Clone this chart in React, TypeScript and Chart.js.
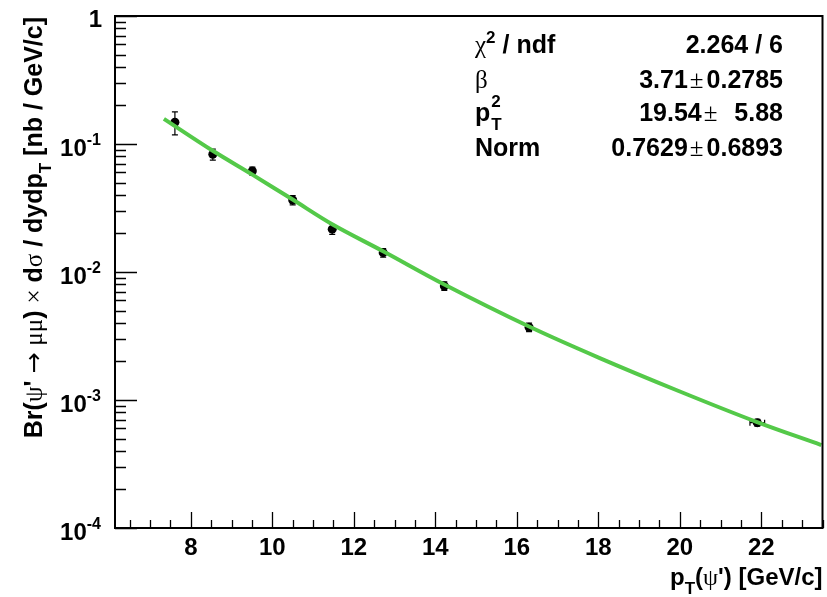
import React, { useEffect, useRef } from "react";
import { Chart, registerables } from "chart.js";

Chart.register(...registerables);

// ---------- data ----------
const pointX = [7.61, 8.54, 9.51, 10.5, 11.47, 12.72, 14.22, 16.3, 21.9];
const pointY = [0.148, 0.0831, 0.0615, 0.0365, 0.0216, 0.01416, 0.00778, 0.0037, 0.000665];
const pointYErr = [0.03, 0.0082, 0.0045, 0.003, 0.0019, 0.0011, 0.0006, 0.00028, 0.00004];
const pointXErr = [0, 0, 0, 0, 0, 0, 0, 0, 0.18];

const fitX = [7.34, 8.54, 9.52, 10.5, 11.48, 12.73, 14.22, 16.3, 18.02, 19.97, 21.88, 23.47];
const fitY = [0.1573, 0.0885, 0.0574, 0.0368, 0.0235, 0.01446, 0.00799, 0.00375, 0.002136, 0.001176, 0.000675, 0.000445];

const xMajorTicks = [8, 10, 12, 14, 16, 18, 20, 22];
const xMinorStep = 0.5;
const yMajorTicks = [1, 0.1, 0.01, 0.001, 0.0001];
const yTickExponents = ["", "-1", "-2", "-3", "-4"];

const statsLabels = ["chi2/ndf", "beta", "pT2", "Norm"];
const statsValues = ["2.264 / 6", "3.71", "19.54", "0.7629"];
const statsErrors = ["", "0.2785", "  5.88", "0.6893"];

const X_MIN = 6.14;
const X_MAX = 23.5;
const Y_MIN = 1e-4;
const Y_MAX = 1;

// ---------- text helpers ----------
const B = (s: number) => `bold ${s}px "Liberation Sans", Arial, Helvetica, sans-serif`;
const G = (s: number) => `${s}px "Liberation Serif", "DejaVu Serif", serif`;
const A = (s: number) => `${s}px "DejaVu Sans", sans-serif`;

type Seg = { t: string; f: string; dy?: number; noAdv?: boolean; gap?: number };

function segsWidth(ctx: CanvasRenderingContext2D, segs: Seg[]) {
  let w = 0;
  for (const s of segs) {
    ctx.font = s.f;
    if (!s.noAdv) w += ctx.measureText(s.t).width;
    w += s.gap || 0;
  }
  return w;
}

function drawSegs(ctx: CanvasRenderingContext2D, segs: Seg[], x: number, y: number) {
  let cx = x;
  ctx.textAlign = "left";
  ctx.textBaseline = "alphabetic";
  for (const s of segs) {
    ctx.font = s.f;
    ctx.fillText(s.t, cx, y + (s.dy || 0));
    if (!s.noAdv) cx += ctx.measureText(s.t).width;
    cx += s.gap || 0;
  }
}

function drawSegsRight(ctx: CanvasRenderingContext2D, segs: Seg[], xRight: number, y: number) {
  drawSegs(ctx, segs, xRight - segsWidth(ctx, segs), y);
}

const decorPlugin = {
  id: "rootDecor",
  beforeDatasetsDraw(chart: any) {
    const { ctx, chartArea: a, scales } = chart;
    const xs = scales.x;
    const ys = scales.y;
    ctx.save();
    ctx.beginPath();
    ctx.rect(a.left, a.top, a.right - a.left, a.bottom - a.top);
    ctx.clip();
    ctx.strokeStyle = "#000";
    ctx.lineWidth = 1.2;
    for (let i = 0; i < pointX.length; i++) {
      const px = xs.getPixelForValue(pointX[i]);
      const py = ys.getPixelForValue(pointY[i]);
      if (pointYErr[i] > 0) {
        const y1 = ys.getPixelForValue(pointY[i] + pointYErr[i]);
        const y2 = ys.getPixelForValue(pointY[i] - pointYErr[i]);
        ctx.beginPath();
        ctx.moveTo(px, y1);
        ctx.lineTo(px, y2);
        ctx.moveTo(px - 3, y1);
        ctx.lineTo(px + 3, y1);
        ctx.moveTo(px - 3, y2);
        ctx.lineTo(px + 3, y2);
        ctx.stroke();
      }
      if (pointXErr[i] > 0) {
        const x1 = xs.getPixelForValue(pointX[i] - pointXErr[i]);
        const x2 = xs.getPixelForValue(pointX[i] + pointXErr[i]);
        ctx.beginPath();
        ctx.moveTo(x1, py);
        ctx.lineTo(x2, py);
        ctx.moveTo(x1, py - 3);
        ctx.lineTo(x1, py + 3);
        ctx.moveTo(x2, py - 3);
        ctx.lineTo(x2, py + 3);
        ctx.stroke();
      }
    }
    ctx.restore();
  },
  afterDraw(chart: any) {
    const { ctx, chartArea: a, scales } = chart;
    const xs = scales.x;
    const ys = scales.y;
    ctx.save();
    ctx.fillStyle = "#000";
    ctx.strokeStyle = "#000";

    // ticks
    ctx.lineWidth = 1.3;
    ctx.beginPath();
    const start = Math.ceil(X_MIN / xMinorStep) * xMinorStep;
    for (let v = start; v <= X_MAX + 1e-9; v += xMinorStep) {
      const px = Math.round(xs.getPixelForValue(v)) + 0.5;
      const major = xMajorTicks.some((t) => Math.abs(t - v) < 1e-6);
      const len = major ? 16 : 8;
      ctx.moveTo(px, a.bottom);
      ctx.lineTo(px, a.bottom - len);
    }
    for (let d = -4; d <= 0; d++) {
      for (let m = 1; m <= 9; m++) {
        const v = m * Math.pow(10, d);
        if (v > Y_MAX * 1.0001) break;
        const py = Math.round(ys.getPixelForValue(v)) + 0.5;
        const len = m === 1 ? 22 : 11;
        ctx.moveTo(a.left, py);
        ctx.lineTo(a.left + len, py);
      }
    }
    ctx.stroke();

    // frame
    ctx.lineWidth = 2;
    ctx.strokeRect(a.left, a.top, a.right - a.left, a.bottom - a.top);

    // x labels
    ctx.font = B(24);
    ctx.textAlign = "center";
    ctx.textBaseline = "alphabetic";
    for (const t of xMajorTicks) {
      ctx.fillText(String(t), xs.getPixelForValue(t), a.bottom + 27);
    }

    // y labels
    for (let i = 0; i < yMajorTicks.length; i++) {
      const py = ys.getPixelForValue(yMajorTicks[i]);
      const e = yTickExponents[i];
      if (!e) {
        ctx.font = B(24);
        ctx.textAlign = "right";
        ctx.fillText("1", 102, py + 11);
      } else {
        ctx.font = B(16);
        const sw = ctx.measureText(e).width;
        ctx.textAlign = "left";
        ctx.fillText(e, 101 - sw, py + 0.5);
        ctx.font = B(24);
        ctx.textAlign = "right";
        ctx.fillText("10", 101 - sw, py + 11.5);
      }
    }

    // x title
    const xTitle: Seg[] = [
      { t: "p", f: B(24) },
      { t: "T", f: B(17), dy: 9 },
      { t: "(", f: B(24) },
      { t: "\u03C8", f: G(24) },
      { t: "') [GeV/c]", f: B(24) },
    ];
    drawSegsRight(ctx, xTitle, a.right, 585);

    // y title (rotated)
    const yTitle: Seg[] = [
      { t: "Br(", f: B(25) },
      { t: "\u03C8", f: G(25) },
      { t: "' ", f: B(25) },
      { t: "\u2192", f: A(25) },
      { t: " ", f: B(25) },
      { t: "\u03BC\u03BC", f: G(25) },
      { t: ") ", f: B(25) },
      { t: "\u00D7", f: G(25) },
      { t: " d", f: B(25) },
      { t: "\u03C3", f: G(25) },
      { t: " / dydp", f: B(25) },
      { t: "T", f: B(17), dy: 9 },
      { t: " [nb / GeV/c]", f: B(25) },
    ];
    const yw = segsWidth(ctx, yTitle);
    ctx.save();
    ctx.translate(42, a.top + 1 + yw);
    ctx.rotate(-Math.PI / 2);
    drawSegs(ctx, yTitle, 0, 0);
    ctx.restore();

    // stats box
    const LX = 475;
    const RX = 783;
    const rows = [52.5, 88.3, 120.5, 156];
    const leftSegs: Seg[][] = [
      [
        { t: "\u03C7", f: G(25) },
        { t: "2", f: B(17), dy: -10 },
        { t: " / ndf", f: B(25) },
      ],
      [{ t: "\u03B2", f: G(25) }],
      [
        { t: "p", f: B(25), gap: 1 },
        { t: "2", f: B(17), dy: -14, noAdv: true },
        { t: "T", f: B(17), dy: 9 },
      ],
      [{ t: "Norm", f: B(25) }],
    ];
    for (let r = 0; r < statsLabels.length; r++) {
      drawSegs(ctx, leftSegs[r], LX, rows[r]);
      const right: Seg[] = statsErrors[r]
        ? [
            { t: statsValues[r], f: B(25), gap: 2 },
            { t: "\u00B1", f: G(25), gap: 3 },
            { t: statsErrors[r], f: B(25) },
          ]
        : [{ t: statsValues[r], f: B(25) }];
      drawSegsRight(ctx, right, RX, rows[r]);
    }
    ctx.restore();
  },
};

export default function App() {
  const ref = useRef<HTMLCanvasElement | null>(null);
  useEffect(() => {
    document.body.style.margin = "0";
    const canvas = ref.current;
    if (!canvas) return;
    const chart = new Chart(canvas, {
      type: "scatter",
      data: {
        datasets: [
          {
            type: "line",
            label: "fit",
            data: fitX.map((x, i) => ({ x, y: fitY[i] })),
            borderColor: "rgb(84,201,73)",
            borderWidth: 4,
            pointRadius: 0,
            tension: 0.35,
            showLine: true,
            fill: false,
          },
          {
            type: "scatter",
            label: "data",
            data: pointX.map((x, i) => ({ x, y: pointY[i] })),
            backgroundColor: "#000",
            borderColor: "#000",
            borderWidth: 0,
            pointRadius: 4.5,
          },
        ],
      } as any,
      options: {
        responsive: false,
        animation: false,
        devicePixelRatio: 1,
        layout: { padding: { left: 115, top: 16, right: 3, bottom: 69 } },
        plugins: { legend: { display: false }, tooltip: { enabled: false } },
        scales: {
          x: { type: "linear", min: X_MIN, max: X_MAX, display: false },
          y: { type: "logarithmic", min: Y_MIN, max: Y_MAX, display: false },
        },
      } as any,
      plugins: [decorPlugin],
    });
    return () => chart.destroy();
  }, []);
  return (
    <div style={{ position: "absolute", left: 0, top: 0, width: 827, height: 597, background: "#fff" }}>
      <canvas ref={ref} width={827} height={597} style={{ width: 827, height: 597, display: "block" }} />
    </div>
  );
}
